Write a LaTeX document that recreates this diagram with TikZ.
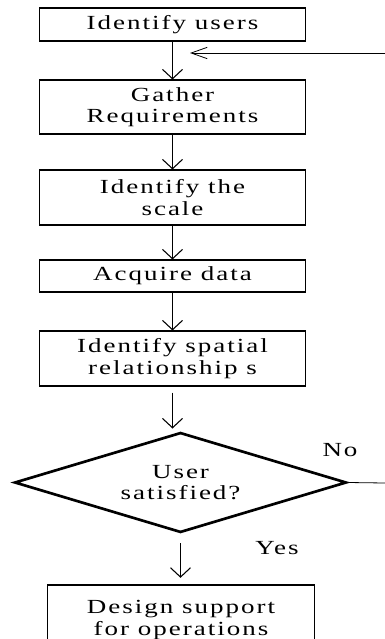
\documentclass[tikz,border=0pt]{standalone}
\usepackage{fontspec}
\setmainfont{Liberation Serif}[FakeStretch=1.35,LetterSpace=10]
\usetikzlibrary{arrows.meta,shapes.geometric}
\begin{document}
\begin{tikzpicture}[x=0.75pt,y=-0.75pt,
  every node/.style={font=\fontsize{15}{16}\selectfont, text=black},
  stepbox/.style={draw, line width=0.8pt, minimum width=200pt, align=center, inner sep=0pt},
  decide/.style={draw, shape=diamond, line width=2pt, aspect=3.32, minimum width=249pt, minimum height=75pt, inner sep=0pt, align=center},
  flow/.style={line width=0.8pt, -{Straight Barb[length=7pt,width=15pt,line width=0.8pt]}},
  back/.style={line width=0.6pt, -{Straight Barb[length=12pt,width=8.5pt,line width=0.6pt]}},
  lbl/.style={inner sep=0pt}]
\useasboundingbox (0,0) rectangle (385,639);
\clip (0,0) rectangle (385,639);
\node[stepbox, minimum height=24.75pt] (b1) at (172.5,24.5) {Identify users};
\node[stepbox, minimum height=40.5pt] (b2) at (172.5,107) {Gather\\Requirements};
\node[stepbox, minimum height=41.25pt] (b3) at (172.5,197.5) {Identify the\\scale};
\node[stepbox, minimum height=24pt] (b4) at (172.5,276) {Acquire data};
\node[stepbox, minimum height=41.25pt] (b5) at (172.5,358.5) {Identify spatial\\relationship s};
\node[decide] (dia) at (180.5,482.5) {User\\satisfied?};
\node[stepbox, minimum height=52.5pt] (b6) at (181,620) {Design support\\for operations};
\node[lbl] (no) at (340,450) {No};
\node[lbl] (yes) at (277,548) {Yes};
\coordinate (fbS) at (385,53);
\coordinate (fbE) at (190,53);
\coordinate (noE) at (385,483);
\draw[flow] (b1.south) -- (b2.north);
\draw[flow] (b2.south) -- (b3.north);
\draw[flow] (b3.south) -- (b4.north);
\draw[flow] (b4.south) -- (b5.north);
\draw[flow, shorten <=4.5pt, shorten >=2pt] (b5.south) -- (b5.south |- dia.north);
\draw[flow, shorten <=7pt, shorten >=5pt] (dia.south) -- (dia.south |- b6.north);
\draw[back] (fbS) -- (fbE);
\draw[line width=0.6pt] (dia.east) -- (noE);
\end{tikzpicture}
\end{document}
